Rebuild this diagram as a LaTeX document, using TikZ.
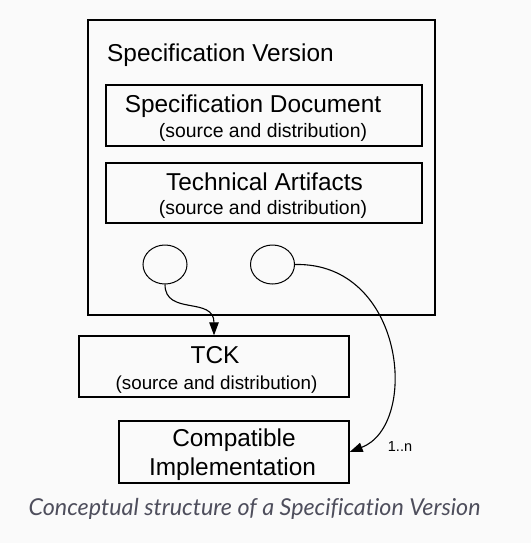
\documentclass[tikz,border=0pt]{standalone}
\usepackage{fontspec}
\setmainfont{Liberation Sans}
\newfontfamily\capfont[Ligatures=NoCommon]{Lato}
\usetikzlibrary{arrows.meta,shapes.geometric}
\definecolor{bgc}{HTML}{FAFAFA}
\definecolor{capc}{HTML}{4E4E5C}
\begin{document}
\begin{tikzpicture}[x=1pt,y=-1pt,
  box/.style={draw=black,line width=1.3pt,inner sep=0pt},
  circ/.style={draw=black,line width=1pt,shape=ellipse,inner sep=0pt,minimum width=44pt,minimum height=39pt},
  bigtxt/.style={font=\fontsize{24.4}{26}\selectfont,inner sep=0pt},
  smalltxt/.style={font=\fontsize{19.4}{22}\selectfont,inner sep=0pt},
  conn/.style={line width=1.1pt,-{Triangle[length=13pt,width=9.5pt]}}
]
\useasboundingbox[fill=bgc] (0,0) rectangle (531,543);
% boxes
\node[box,minimum width=347pt,minimum height=295pt] (outer) at (261.5,167.5) {};
\node[box,minimum width=316pt,minimum height=61pt] (doc) at (264,115.5) {};
\node[box,minimum width=316pt,minimum height=60pt] (tech) at (264,193) {};
\node[box,minimum width=270pt,minimum height=61pt] (tck) at (214,366.5) {};
\node[box,minimum width=230pt,minimum height=62pt] (ci) at (234,452) {};
% circles
\node[circ] (c1) at (165,264.5) {};
\node[circ] (c2) at (272.5,264.5) {};
% texts
\node[bigtxt,anchor=base west] (t1) at (107,61) {Specification Version};
\node[bigtxt,anchor=base] (t2) at (253,112.7) {Specification Document};
\node[smalltxt,anchor=base] (t3) at (263,137.5) {(source and distribution)};
\node[bigtxt,anchor=base] (t4) at (264.5,190) {Technical Artifacts};
\node[smalltxt,anchor=base] (t5) at (263,214) {(source and distribution)};
\node[bigtxt,anchor=base] (t6) at (215,363.3) {TCK};
\node[smalltxt,font=\fontsize{18.8}{22}\selectfont,anchor=base] (t7) at (216.5,389) {(source and distribution)};
\node[bigtxt,anchor=base] (t8) at (234,446.5) {Compatible};
\node[bigtxt,anchor=base] (t9) at (232.5,475) {Implementation};
\node[font=\fontsize{14.5}{16}\selectfont,inner sep=0pt,anchor=base] (lab) at (400,451.5) {1..n};
\node[font=\capfont\itshape\fontsize{23.3}{26}\selectfont,text=capc,inner sep=0pt,anchor=base] (cap) at (254.5,515) {Conceptual structure of a Specification Version};
% connectors
\draw[conn] (c1.south) .. controls (165,316) and (214,296) .. (tck.north);
\draw[conn] (c2.east) .. controls (405,262) and (420,425) .. (ci.east);
\end{tikzpicture}
\end{document}
